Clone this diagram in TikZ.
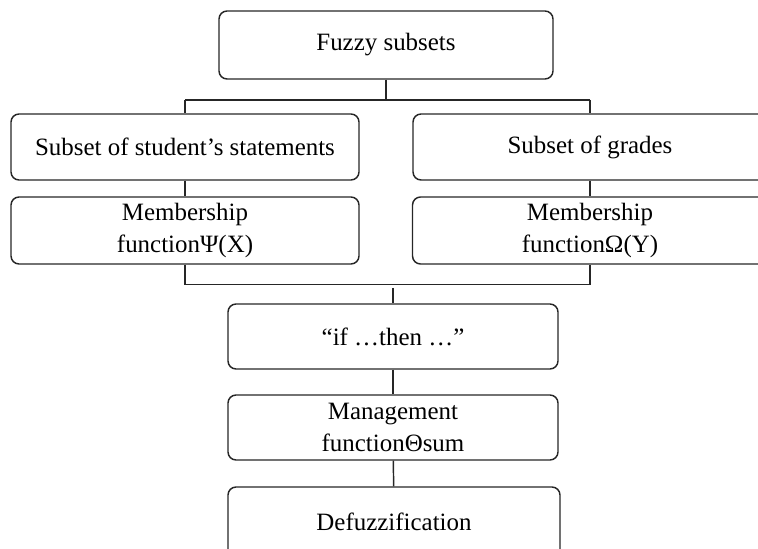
\documentclass[tikz,border=0pt]{standalone}
\usepackage{fontspec}
\setmainfont{Liberation Serif}
\newcommand\boxfont{\fontsize{18.7}{24}\selectfont}
\begin{document}
\begin{tikzpicture}[x=0.75pt,y=-0.75pt,
  box/.style={draw=black!85, line width=1.1pt, rounded corners=6pt, inner sep=0pt, align=center, font=\boxfont, text=black},
  conn/.style={draw=black!85, line width=1.1pt}]
\useasboundingbox (0,0) rectangle (758,549);
\clip (0,0) rectangle (758,549);
\node[box, minimum width=334*0.75pt, minimum height=68*0.75pt] (top) at (386,45) {Fuzzy subsets};
\node[box, minimum width=348*0.75pt, minimum height=66*0.75pt] (L1) at (185,147) {Subset of student’s statements};
\node[box, minimum width=348*0.75pt, minimum height=67*0.75pt] (L2) at (185,230.5) {Membership\\ functionΨ(X)};
\node[box, minimum width=354*0.75pt, minimum height=66*0.75pt] (R1) at (590,147) {Subset of grades};
\node[box, minimum width=355*0.75pt, minimum height=67*0.75pt] (R2) at (590,230.5) {Membership\\ functionΩ(Y)};
\node[box, minimum width=330*0.75pt, minimum height=65*0.75pt] (B1) at (393,336.5) {“if …then …”};
\node[box, minimum width=330*0.75pt, minimum height=65*0.75pt] (B2) at (393,427.5) {Management\\ functionΘsum};
\node[box, minimum width=332*0.75pt, minimum height=70*0.75pt] (B3) at (394,522) {Defuzzification};
\coordinate (hl) at (L1.north |- 0,100);
\coordinate (hr) at (R1.north |- 0,100);
\draw[conn] (top.south) -- (top.south |- hl);
\draw[conn] (hl) -- (hr);
\draw[conn] (hl) -- (L1.north);
\draw[conn] (hr) -- (R1.north);
\draw[conn] (L1) -- (L2);
\draw[conn] (R1) -- (R2);
\draw[conn] (L2.south) -- ++(0,20) -| (R2.south);
\coordinate (gap) at (B1.north |- 0,288);
\draw[conn] (gap) -- (B1.north);
\draw[conn] (B1) -- (B2);
\draw[conn] (B2) -- (B3);
\end{tikzpicture}
\end{document}
